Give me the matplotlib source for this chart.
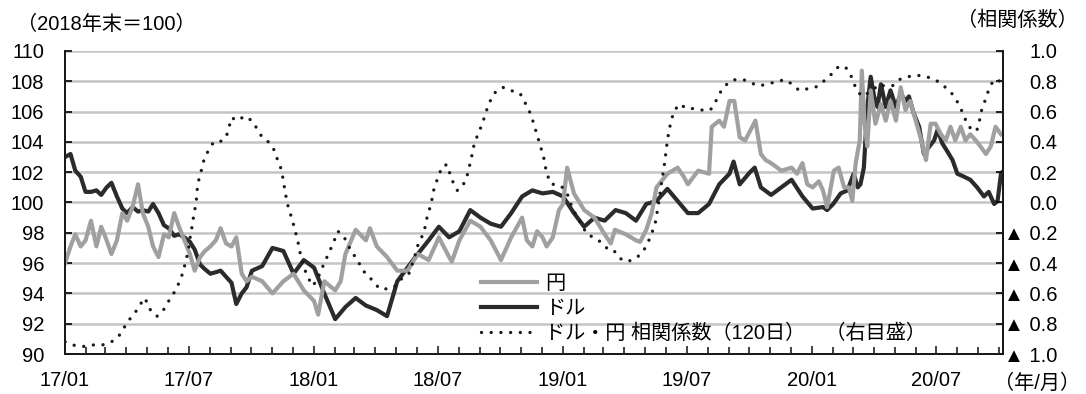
"""
Yen / dollar index (2018 year-end = 100) and the 120-day correlation between them.
Left axis: index levels, right axis: correlation coefficient (negatives shown with ▲).
"""

import numpy as np
import matplotlib
matplotlib.use('Agg')
import matplotlib.pyplot as plt
import matplotlib.dates as mdates

plt.rcParams['font.family'] = ['Liberation Sans', 'Noto Sans CJK JP', 'DejaVu Sans']

# ── data (x = months elapsed since 2017/01/01) ──────────────────────────────
usd_m = [0, 0.25, 0.5, 0.75, 1.0, 1.25, 1.5, 1.75, 2.0, 2.25, 2.5, 2.75, 3.0, 3.25,
         3.5, 3.75, 4.0, 4.25, 4.5, 4.75, 5.0, 5.25, 5.5, 5.75, 6.0, 6.25, 6.5, 6.75,
         7.0, 7.25, 7.5, 7.75, 8.0, 8.25, 8.5, 8.75, 9.0, 9.5, 10, 10.5, 11, 11.5,
         12, 12.5, 13, 13.5, 14, 14.5, 15, 15.5, 16, 16.5, 17, 17.5, 18, 18.5, 19,
         19.5, 20, 20.5, 21, 21.5, 22, 22.5, 23, 23.5, 24, 24.5, 25, 25.5, 26, 26.5,
         27, 27.5, 28, 28.5, 29, 29.5, 30, 30.5, 31, 31.5, 32, 32.2, 32.5, 33, 33.2,
         33.5, 34, 34.5, 35, 35.5, 36, 36.5, 36.71, 37.0, 37.35, 37.67, 37.99, 38.18,
         38.31, 38.47, 38.63, 38.8, 38.96, 39.12, 39.28, 39.52, 39.76, 40.0, 40.24,
         40.48, 40.64, 40.88, 41.12, 41.37, 41.61, 41.85, 42.01, 42.25, 42.49, 42.73,
         42.97, 43.29, 43.61, 43.93, 44.26, 44.5, 44.74, 44.9, 45.06, 45.14]
usd = [103.0, 103.2, 102.1, 101.7, 100.7, 100.7, 100.8, 100.5, 101.0, 101.3, 100.4,
       99.6, 99.3, 99.7, 99.4, 99.5, 99.4, 99.9, 99.3, 98.5, 98.3, 97.8, 97.9, 97.7,
       97.4, 96.9, 95.9, 95.6, 95.3, 95.4, 95.5, 95.1, 94.7, 93.3, 94.0, 94.4, 95.5,
       95.8, 97.0, 96.8, 95.3, 96.2, 95.7, 94.0, 92.3, 93.1, 93.7, 93.2, 92.9, 92.5,
       94.8, 95.7, 96.6, 97.5, 98.4, 97.7, 98.1, 99.5, 99.0, 98.6, 98.4, 99.3, 100.4,
       100.8, 100.6, 100.7, 100.4, 99.3, 98.4, 99.0, 98.8, 99.5, 99.3, 98.8, 99.9,
       100.1, 100.9, 100.1, 99.3, 99.3, 99.9, 101.2, 101.9, 102.7, 101.2, 102.0, 102.3,
       101.0, 100.5, 101.0, 101.5, 100.4, 99.6, 99.7, 99.5, 99.9, 100.6, 100.8, 101.9,
       101.0, 101.2, 102.3, 106.3, 108.3, 107.0, 106.3, 107.8, 106.3, 107.4, 106.3,
       107.2, 106.7, 107.0, 105.9, 105.0, 103.2, 103.7, 104.1, 104.8, 103.9, 103.4,
       102.8, 101.9, 101.7, 101.5, 101.0, 100.4, 100.7, 99.9, 100.1, 101.9, 102.0]

jpy_m = [0, 0.25, 0.5, 0.75, 1.0, 1.25, 1.5, 1.75, 2.0, 2.25, 2.5, 2.75, 3.0, 3.25,
         3.5, 3.75, 4.0, 4.25, 4.5, 4.75, 5.0, 5.25, 5.5, 5.75, 6.0, 6.25, 6.5, 6.75,
         7.0, 7.25, 7.5, 7.75, 8.0, 8.25, 8.5, 8.75, 9.0, 9.5, 10, 10.5, 11, 11.5, 12,
         12.2, 12.5, 13, 13.26, 13.5, 14, 14.5, 14.7, 15, 15.5, 16, 16.5, 17, 17.5, 18,
         18.5, 18.63, 19, 19.5, 20, 20.5, 21, 21.5, 22, 22.25, 22.5, 22.73, 23, 23.2,
         23.5, 23.78, 24, 24.17, 24.5, 25, 25.5, 26, 26.27, 26.49, 26.99, 27.49, 27.71,
         28, 28.27, 28.5, 29, 29.49, 29.8, 30, 30.5, 31, 31.16, 31.5, 31.74, 32, 32.24,
         32.49, 32.77, 33.25, 33.5, 33.73, 34, 34.5, 35, 35.26, 35.5, 35.74, 36.01,
         36.3, 36.51, 36.7, 36.79, 37.03, 37.27, 37.51, 37.75, 37.91, 38.07, 38.28,
         38.39, 38.5, 38.63, 38.8, 39.04, 39.28, 39.52, 39.76, 40.0, 40.24, 40.48,
         40.72, 40.96, 41.2, 41.45, 41.69, 41.93, 42.17, 42.41, 42.65, 42.89, 43.13,
         43.37, 43.61, 43.86, 44.1, 44.34, 44.58, 44.82, 45.06]
jpy = [96.0, 97.1, 97.9, 97.1, 97.5, 98.8, 97.1, 98.4, 97.5, 96.6, 97.5, 99.3, 98.8,
       99.7, 101.2, 99.3, 98.4, 97.1, 96.4, 97.9, 97.7, 99.3, 98.4, 97.5, 96.6, 95.5,
       96.4, 96.8, 97.1, 97.5, 98.3, 97.3, 97.1, 97.7, 95.3, 94.8, 95.1, 94.8, 94.0,
       94.8, 95.3, 94.2, 93.5, 92.6, 94.8, 94.2, 94.8, 96.6, 98.2, 97.5, 98.3, 97.1,
       96.4, 95.5, 95.5, 96.6, 96.2, 97.7, 96.4, 96.1, 97.5, 98.8, 98.4, 97.5, 96.2,
       97.7, 99.0, 97.5, 97.1, 98.1, 97.7, 97.1, 97.7, 99.5, 99.9, 102.3, 100.6, 99.5,
       99.0, 97.9, 97.3, 98.2, 97.9, 97.5, 97.4, 98.2, 99.3, 101.0, 101.9, 102.3,
       101.7, 101.2, 102.1, 101.9, 105.0, 105.4, 105.0, 106.7, 106.7, 104.3, 104.1,
       105.4, 103.2, 102.8, 102.6, 102.1, 102.3, 101.9, 102.6, 101.2, 101.0, 101.4,
       100.8, 99.7, 100.4, 102.1, 102.3, 101.0, 101.0, 100.1, 102.6, 104.1, 108.7,
       105.2, 103.7, 107.4, 105.2, 106.5, 105.4, 106.7, 105.4, 107.6, 106.1, 106.7,
       105.4, 104.3, 102.8, 105.2, 105.2, 104.5, 104.1, 105.0, 104.1, 105.0, 104.1,
       104.5, 104.1, 103.7, 103.2, 103.7, 105.0, 104.5]

corr_m = [0, 0.5, 0.92, 1.37, 1.8, 2.22, 2.59, 3.05, 3.34, 3.61, 3.78, 3.97, 4.13,
          4.42, 4.71, 4.9, 5.19, 5.38, 5.57, 5.73, 5.86, 5.94, 6.06, 6.15, 6.22,
          6.31, 6.38, 6.47, 6.59, 6.71, 6.94, 7.15, 7.47, 7.74, 7.9, 8.03, 8.32,
          8.64, 9.0, 9.24, 9.5, 9.8, 10.04, 10.2, 10.37, 10.48, 10.61, 10.72, 10.85,
          10.96, 11.09, 11.2, 11.3, 11.41, 11.57, 11.73, 11.89, 12.13, 12.29, 12.49,
          12.69, 12.9, 13.13, 13.42, 13.61, 13.79, 14.06, 14.3, 14.54, 14.86, 15.15,
          15.51, 15.83, 16.23, 16.55, 16.79, 17.03, 17.27, 17.47, 17.63, 17.72,
          17.84, 18.0, 18.16, 18.4, 18.63, 18.88, 19.12, 19.36, 19.55, 19.68, 19.87,
          20.08, 20.32, 20.56, 20.8, 21.12, 21.45, 21.9, 22.12, 22.33, 22.49, 22.65,
          22.76, 22.89, 23.05, 23.21, 23.42, 23.69, 23.94, 24.18, 24.42, 24.66, 24.9,
          25.14, 25.46, 25.78, 26.1, 26.43, 26.59, 26.83, 27.07, 27.31, 27.55, 27.87,
          28.19, 28.43, 28.59, 28.75, 28.83, 28.96, 29.02, 29.12, 29.23, 29.31, 29.6,
          29.92, 30.28, 30.68, 31.08, 31.32, 31.56, 31.88, 32.2, 32.69, 33.01, 33.41,
          33.81, 34.29, 34.7, 35.02, 35.34, 35.74, 36.14, 36.54, 36.87, 37.19, 37.54,
          37.83, 37.99, 38.15, 38.39, 38.63, 38.95, 39.2, 39.44, 39.84, 40.16, 40.59,
          41.04, 41.49, 41.93, 42.33, 42.65, 42.89, 43.1, 43.29, 43.45, 43.7, 43.9,
          44.01, 44.1, 44.26, 44.42, 44.58, 44.71, 45.06]
corr = [-0.92, -0.945, -0.95, -0.94, -0.94, -0.92, -0.88, -0.78, -0.73, -0.68, -0.63,
        -0.66, -0.72, -0.75, -0.72, -0.67, -0.61, -0.56, -0.50, -0.44, -0.37, -0.31,
        -0.21, -0.14, -0.07, -0.01, 0.10, 0.17, 0.23, 0.29, 0.35, 0.40, 0.40, 0.43,
        0.49, 0.56, 0.54, 0.57, 0.54, 0.49, 0.43, 0.40, 0.35, 0.30, 0.23, 0.17, 0.06,
        -0.01, -0.07, -0.13, -0.20, -0.25, -0.32, -0.38, -0.45, -0.50, -0.55, -0.52,
        -0.46, -0.40, -0.34, -0.27, -0.19, -0.22, -0.27, -0.33, -0.37, -0.44, -0.48,
        -0.52, -0.57, -0.57, -0.56, -0.50, -0.47, -0.38, -0.27, -0.20, -0.07, -0.01,
        0.06, 0.12, 0.18, 0.24, 0.25, 0.15, 0.08, 0.10, 0.17, 0.28, 0.37, 0.45, 0.51,
        0.61, 0.70, 0.74, 0.76, 0.74, 0.72, 0.67, 0.61, 0.55, 0.49, 0.43, 0.37, 0.29,
        0.19, 0.12, 0.12, 0.10, 0.06, -0.03, -0.10, -0.15, -0.21, -0.23, -0.26, -0.30,
        -0.31, -0.35, -0.38, -0.39, -0.38, -0.36, -0.32, -0.23, -0.14, -0.01, 0.15,
        0.23, 0.34, 0.41, 0.49, 0.56, 0.60, 0.65, 0.62, 0.62, 0.61, 0.61, 0.66, 0.73,
        0.78, 0.81, 0.81, 0.79, 0.77, 0.78, 0.80, 0.81, 0.78, 0.74, 0.75, 0.76, 0.80,
        0.84, 0.89, 0.90, 0.85, 0.79, 0.74, 0.70, 0.72, 0.75, 0.78, 0.77, 0.77, 0.81,
        0.83, 0.84, 0.83, 0.81, 0.77, 0.73, 0.69, 0.63, 0.57, 0.51, 0.48, 0.47, 0.52,
        0.59, 0.65, 0.72, 0.77, 0.81, 0.80]

left_ticks = list(range(90, 111, 2))
right_ticks = [1.0, 0.8, 0.6, 0.4, 0.2, 0.0, -0.2, -0.4, -0.6, -0.8, -1.0]
right_labels = ['1.0', '0.8', '0.6', '0.4', '0.2', '0.0',
                '▲ 0.2', '▲ 0.4', '▲ 0.6', '▲ 0.8', '▲ 1.0']


def to_dates(months):
    # months elapsed -> calendar dates
    t0 = np.datetime64('2017-01-01')
    days = np.round(np.asarray(months) * 30.4375).astype(int)
    return t0 + days.astype('timedelta64[D]')


FS = 14.5
fig = plt.figure(figsize=(10.86, 3.94), dpi=100)
ax = fig.add_axes([0.0599, 0.1015, 0.8637, 0.7691])
ax2 = ax.twinx()

l_jpy, = ax.plot(to_dates(jpy_m), jpy, color='#a0a0a0', lw=3.0, label='円', zorder=3)
l_usd, = ax.plot(to_dates(usd_m), usd, color='#2b2b2b', lw=3.0, label='ドル', zorder=2)
l_cor, = ax2.plot(to_dates(corr_m), corr, color='#1a1a1a', lw=2.4,
                  linestyle=(0, (0.01, 2.9)), dash_capstyle='round',
                  label='ドル・円 相関係数（120日）　（右目盛）')

# --- left axis ---
ax.set_ylim(90, 110)
ax.set_yticks(left_ticks)
ax.grid(axis='y', color='#c4c4c4', lw=1.8, zorder=0)
ax.set_xlim(np.datetime64('2017-01-01'), np.datetime64('2020-10-07'))
ax.xaxis.set_major_locator(mdates.MonthLocator(bymonth=[1, 7]))
ax.xaxis.set_minor_locator(mdates.MonthLocator())
ax.xaxis.set_major_formatter(mdates.DateFormatter('%y/%m'))
ax.tick_params(axis='x', which='both', direction='in', labelsize=FS, pad=12,
               width=1.2, color='#222222')
ax.tick_params(axis='x', which='major', length=6)
ax.tick_params(axis='x', which='minor', length=5)
ax.tick_params(axis='y', direction='in', length=5, width=1.2, labelsize=FS, pad=15)

for a in (ax, ax2):
    a.spines['top'].set_visible(False)
    for s in ('left', 'right', 'bottom'):
        a.spines[s].set_linewidth(1.4)
        a.spines[s].set_color('#1a1a1a')

# --- right axis ---
ax2.set_ylim(-1, 1)
ax2.set_yticks(right_ticks)
ax2.set_yticklabels(right_labels)
ax2.tick_params(axis='y', direction='in', length=5, width=1.2, labelsize=FS, pad=39)
for t in ax2.get_yticklabels():
    t.set_horizontalalignment('right')

# --- legend ---
leg = ax2.legend(handles=[l_jpy, l_usd, l_cor], loc='upper left',
                 bbox_to_anchor=(0.443, 0.265), frameon=False, fontsize=FS,
                 handlelength=2.8, handletextpad=0.4, labelspacing=0.3,
                 borderaxespad=0, borderpad=0)

# --- annotations ---
fig.text(0.016, 1 - 24 / 394, '（2018年末＝100）', fontsize=FS, va='center', ha='left')
fig.text(0.992, 1 - 20 / 394, '（相関係数）', fontsize=FS, va='center', ha='right')
fig.text(0.995, 1 - 383 / 394, '（年/月）', fontsize=FS, va='center', ha='right')

plt.savefig('out.png', dpi=100)
plt.close()
